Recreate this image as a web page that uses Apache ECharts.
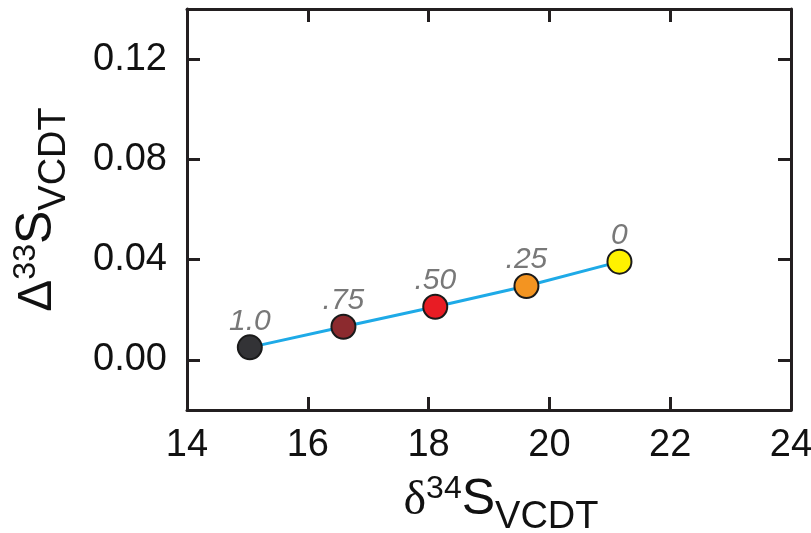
<!DOCTYPE html>
<html>
<head>
<meta charset="utf-8">
<script src="https://cdn.jsdelivr.net/npm/echarts@6/dist/echarts.min.js"></script>
<style>html,body{margin:0;padding:0;background:#fff}#c{width:811px;height:533px}</style>
</head>
<body>
<div id="c"></div>
<script>
var xValues = [15.04, 16.59, 18.11, 19.62, 21.16];
var yValues = [0.0050, 0.0132, 0.0212, 0.0295, 0.0392];
var pointLabels = ['1.0', '.75', '.50', '.25', '0'];
var pointColors = ['#333336', '#8c2a2e', '#e81c24', '#f39421', '#fff200'];
var xTicks = [14, 16, 18, 20, 22, 24];
var yTicks = [0.00, 0.04, 0.08, 0.12];

var chart = echarts.init(document.getElementById('c'));
var axisColor = '#231f20';
var font = '"Liberation Sans", Arial, Helvetica, sans-serif';

var pts = xValues.map(function (x, i) {
  return {
    value: [x, yValues[i]],
    itemStyle: { color: pointColors[i] },
    label: { formatter: pointLabels[i] }
  };
});

var baseAxisLine = { show: true, onZero: false, lineStyle: { color: axisColor, width: 3 } };
var baseTick = { show: true, inside: true, length: 13, lineStyle: { color: axisColor, width: 3 } };

function titleRich(dFont) {
  return {
    d: { fontSize: 48, fontFamily: dFont, color: '#111', verticalAlign: 'bottom', lineHeight: 52 },
    sup: { fontSize: 32, fontFamily: font, color: '#111', verticalAlign: 'top', lineHeight: 32 },
    s: { fontSize: 50, fontFamily: font, color: '#111', verticalAlign: 'bottom', lineHeight: 52 },
    sub: { fontSize: 38, fontFamily: font, color: '#111', verticalAlign: 'bottom', lineHeight: 40, padding: [0, 0, -12, 0] }
  };
}

chart.setOption({
  animation: false,
  grid: { left: 187, right: 20, top: 9, bottom: 123, containLabel: false, outerBoundsMode: 'none' },
  xAxis: [{
    type: 'value', min: 14, max: 24, interval: 2,
    axisLine: baseAxisLine, axisTick: baseTick, splitLine: { show: false },
    axisLabel: { color: '#111', fontSize: 38, fontFamily: font, margin: 17, customValues: xTicks },
    name: '{d|δ}{sup|34}{s|S}{sub|VCDT}',
    nameLocation: 'middle', nameGap: 63,
    nameTextStyle: { color: '#111', fontFamily: font, padding: [0, 0, 0, 24], rich: titleRich('serif') }
  }, {
    type: 'value', position: 'top', min: 14, max: 24, interval: 2,
    axisLine: baseAxisLine, axisTick: baseTick, axisLabel: { show: false }, splitLine: { show: false }
  }],
  yAxis: [{
    type: 'value', min: -0.02, max: 0.14,
    axisLine: baseAxisLine,
    axisTick: Object.assign({}, baseTick, { customValues: yTicks }),
    splitLine: { show: false },
    axisLabel: {
      customValues: yTicks, color: '#111', fontSize: 38, fontFamily: font, margin: 20,
      formatter: function (v) { return v.toFixed(2); }
    },
    name: '{d|Δ}{sup|33}{s|S}{sub|VCDT}',
    nameLocation: 'middle', nameGap: 125, nameRotate: 90,
    nameTextStyle: { color: '#111', fontFamily: font, rich: titleRich(font) }
  }, {
    type: 'value', position: 'right', min: -0.02, max: 0.14,
    axisLine: baseAxisLine,
    axisTick: Object.assign({}, baseTick, { customValues: yTicks }),
    axisLabel: { show: false }, splitLine: { show: false }
  }],
  series: [{
    type: 'line',
    data: pts,
    symbol: 'circle', symbolSize: 24,
    lineStyle: { color: '#1eaae7', width: 3 },
    itemStyle: { borderColor: '#1a1a1a', borderWidth: 2 },
    label: {
      show: true, position: 'top', distance: -2,
      color: '#787878', fontSize: 30, fontStyle: 'italic', fontFamily: font
    },
    z: 3
  }]
});
</script>
</body>
</html>
